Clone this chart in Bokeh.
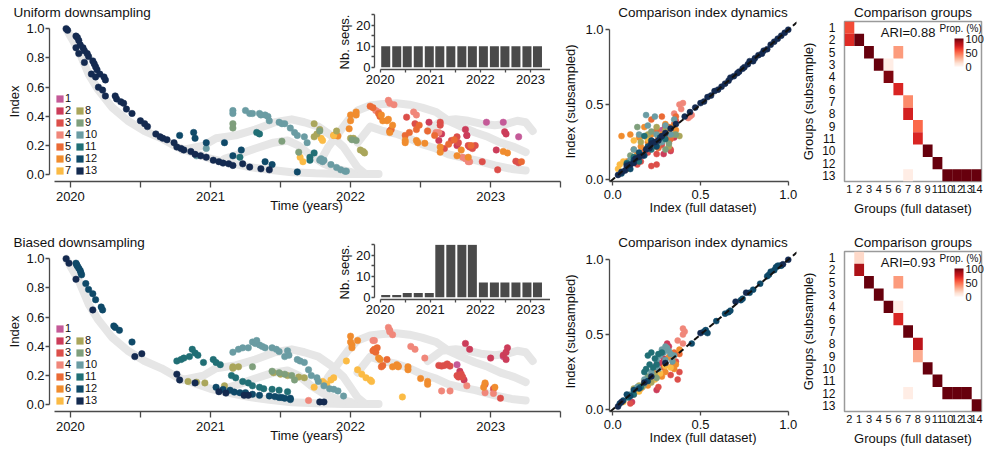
from bokeh.plotting import figure
from bokeh.models import (ColumnDataSource, Range1d, FactorRange, FixedTicker, Legend, LegendItem,
                          LinearColorMapper, ColorBar, Slope, GridBox, PrintfTickFormatter,
                          CustomJSTickFormatter, Label)
from bokeh.transform import transform
from bokeh.core.properties import value
from bokeh.embed import file_html
from bokeh.resources import INLINE
from bokeh.palettes import Reds256

FONT = "Liberation Sans"
NAN = float("nan")

# ---------------- categories / colours ----------------
GROUP_LABELS = ["1", "2", "3", "4", "5", "6", "7", "8", "9", "10", "11", "12", "13"]
GROUP_COLORS = ["#c45a98", "#cc3d5a", "#dc4f4a", "#f0877a", "#ea6a35", "#f08c2e", "#fbbb45",
                "#aaa65b", "#7f9f7c", "#6a9ca3", "#216f75", "#0f4968", "#142a50"]

# ---------------- full dataset index (grey bands) ----------------
BAND_DECAY_YEAR = [2019.97, 2020.06, 2020.13, 2020.20, 2020.30, 2020.41, 2020.53, 2020.65, 2020.76,
                   2020.88, 2021.00, 2021.14, 2021.28, 2021.42, 2021.58, 2021.75, 2021.95, 2022.20]
BAND_DECAY_INDEX = [1.0, 0.85, 0.69, 0.58, 0.46, 0.37, 0.30, 0.25, 0.19, 0.15, 0.11, 0.08, 0.053,
                    0.034, 0.018, 0.01, 0.005, 0.005]
BAND2_YEAR = [2020.80, 2020.95, 2021.04, 2021.18, 2021.32, 2021.46, 2021.58, 2021.67, 2021.77,
              2021.86, 2021.95, 2022.0, 2022.05, 2022.10]
BAND2_INDEX = [0.17, 0.20, 0.25, 0.27, 0.31, 0.36, 0.38, 0.36, 0.33, 0.27, 0.19, 0.12, 0.05, 0.01]
BAND3_YEAR = [2021.10, 2021.20, 2021.32, 2021.45, 2021.55, 2021.63, 2021.72, 2021.81, 2021.90, 2022.0]
BAND3_INDEX = [0.11, 0.14, 0.18, 0.22, 0.235, 0.20, 0.13, 0.075, 0.04, 0.02]
BAND4_YEAR = [2021.80, 2021.84, 2021.91, 2021.98, 2022.05, 2022.14, 2022.23, 2022.33, 2022.42,
              2022.51, 2022.61, 2022.70, 2022.79, 2022.89, 2022.98, 2023.07, 2023.17, 2023.25]
BAND4_INDEX = [0.12, 0.19, 0.28, 0.37, 0.44, 0.475, 0.485, 0.49, 0.48, 0.46, 0.43, 0.37, 0.33,
               0.29, 0.26, 0.22, 0.19, 0.155]
BAND5_YEAR = [2022.05, 2022.14, 2022.23, 2022.33, 2022.42, 2022.51, 2022.61, 2022.70, 2022.79,
              2022.89, 2023.03, 2023.15, 2023.25]
BAND5_INDEX = [0.22, 0.33, 0.30, 0.28, 0.25, 0.21, 0.18, 0.14, 0.12, 0.10, 0.064, 0.04, 0.03]
BAND6_YEAR = [2022.55, 2022.65, 2022.75, 2022.84, 2022.93, 2023.03, 2023.12, 2023.19, 2023.25, 2023.30]
BAND6_INDEX = [0.30, 0.37, 0.38, 0.37, 0.35, 0.34, 0.35, 0.37, 0.36, 0.30]

# ---------------- uniform downsampling: index through time (year, index) ----------------
UT1 = [(2022.97, 0.36), (2023.09, 0.36), (2022.83, 0.27), (2023.20, 0.26)]
UT2 = [(2022.65, 0.28), (2022.63, 0.235), (2022.82, 0.31), (2022.83, 0.27), (2023.10, 0.295),
       (2023.11, 0.28), (2022.76, 0.20), (2023.04, 0.17), (2022.56, 0.36)]
UT3 = [(2022.40, 0.395), (2022.46, 0.35), (2022.64, 0.36), (2022.64, 0.34), (2022.72, 0.235),
       (2022.76, 0.26), (2022.77, 0.22), (2022.84, 0.20), (2022.85, 0.19), (2022.87, 0.18),
       (2022.89, 0.20), (2022.94, 0.09), (2023.05, 0.034), (2023.18, 0.093), (2023.20, 0.082),
       (2022.67, 0.18)]
UT4 = [(2022.27, 0.51), (2022.28, 0.49), (2022.31, 0.48), (2022.45, 0.43), (2022.47, 0.41),
       (2022.61, 0.29), (2022.63, 0.29), (2022.80, 0.12), (2022.82, 0.11), (2022.84, 0.09),
       (2022.85, 0.09), (2022.18, 0.44), (2022.20, 0.43)]
UT5 = [(2022.14, 0.47), (2022.16, 0.46), (2022.20, 0.42), (2022.21, 0.40), (2022.28, 0.30),
       (2022.29, 0.31), (2022.39, 0.27), (2022.42, 0.29), (2022.47, 0.31), (2022.49, 0.34),
       (2022.55, 0.30), (2022.60, 0.27), (2022.70, 0.21), (2022.74, 0.24), (2022.86, 0.20),
       (2023.22, 0.09)]
UT6 = [(2021.88, 0.27), (2021.91, 0.265), (2022.00, 0.41), (2022.00, 0.37), (2022.04, 0.43),
       (2022.04, 0.41), (2021.99, 0.315), (2022.22, 0.41), (2022.23, 0.37), (2022.26, 0.37),
       (2022.27, 0.38), (2022.30, 0.34), (2022.28, 0.29), (2022.39, 0.235), (2022.39, 0.22),
       (2022.47, 0.235), (2022.48, 0.22), (2022.53, 0.216), (2022.64, 0.19), (2022.64, 0.155),
       (2022.76, 0.13), (2022.84, 0.12), (2022.79, 0.17), (2023.09, 0.16), (2023.12, 0.15)]
UT7 = [(2021.64, 0.12), (2021.66, 0.09), (2021.79, 0.25), (2021.80, 0.235), (2021.88, 0.27)]
UT8 = [(2021.74, 0.35), (2021.78, 0.31), (2021.76, 0.28), (2021.74, 0.26), (2021.90, 0.30),
       (2022.00, 0.25), (2022.02, 0.25), (2022.07, 0.17), (2022.09, 0.16), (2022.10, 0.15)]
UT9 = [(2021.16, 0.35), (2021.16, 0.32), (2021.51, 0.23), (2021.63, 0.155), (2021.78, 0.30),
       (2022.01, 0.24), (2022.04, 0.235)]
UT10 = [(2020.90, 0.13), (2020.97, 0.18), (2021.16, 0.44), (2021.16, 0.42), (2021.25, 0.44),
        (2021.28, 0.42), (2021.30, 0.42), (2021.35, 0.42), (2021.36, 0.41), (2021.39, 0.41),
        (2021.41, 0.40), (2021.42, 0.37), (2021.49, 0.36), (2021.51, 0.35), (2021.53, 0.35),
        (2021.57, 0.32), (2021.60, 0.29), (2021.62, 0.27), (2021.67, 0.26), (2021.69, 0.22),
        (2021.79, 0.11), (2021.80, 0.09), (2021.78, 0.10), (2021.81, 0.10), (2021.86, 0.07),
        (2021.90, 0.05), (2021.93, 0.034), (2021.96, 0.025), (2021.97, 0.025)]
UT11 = [(2021.33, 0.29), (2021.35, 0.28), (2021.21, 0.12), (2021.71, 0.12), (2021.71, 0.10),
        (2021.74, 0.15)]
UT12 = [(2020.78, 0.27), (2020.88, 0.29), (2020.89, 0.25), (2020.97, 0.22), (2021.10, 0.22),
        (2021.16, 0.13), (2021.22, 0.17), (2021.39, 0.09), (2021.44, 0.07), (2021.62, 0.02)]
UT13 = [(2019.97, 1.00), (2019.98, 0.99), (2020.04, 0.95), (2020.05, 0.94), (2020.06, 0.92),
        (2020.04, 0.87), (2020.07, 0.89), (2020.09, 0.87), (2020.06, 0.83), (2020.10, 0.85),
        (2020.10, 0.77), (2020.12, 0.83), (2020.13, 0.81), (2020.16, 0.78), (2020.17, 0.76),
        (2020.18, 0.74), (2020.19, 0.72), (2020.21, 0.69), (2020.24, 0.67), (2020.25, 0.65),
        (2020.15, 0.69), (2020.18, 0.67), (2020.20, 0.60), (2020.23, 0.58), (2020.25, 0.54),
        (2020.32, 0.54), (2020.33, 0.52), (2020.36, 0.50), (2020.38, 0.49), (2020.40, 0.45),
        (2020.44, 0.42), (2020.50, 0.37), (2020.53, 0.35), (2020.55, 0.33), (2020.61, 0.28),
        (2020.64, 0.26), (2020.66, 0.25), (2020.69, 0.24), (2020.74, 0.22), (2020.76, 0.19),
        (2020.79, 0.18), (2020.81, 0.17), (2020.86, 0.16), (2020.89, 0.14), (2020.93, 0.13),
        (2020.97, 0.12), (2021.02, 0.10), (2021.06, 0.09), (2021.09, 0.08), (2021.13, 0.075),
        (2021.16, 0.064), (2021.23, 0.075), (2021.28, 0.053), (2021.36, 0.041), (2021.42, 0.034)]

# ---------------- biased downsampling: index through time (year, index) ----------------
BT1 = [(2022.76, 0.275), (2023.09, 0.33)]
BT2 = [(2022.82, 0.42), (2022.85, 0.38), (2022.81, 0.17), (2023.00, 0.32), (2023.09, 0.34),
       (2023.11, 0.36), (2023.12, 0.39), (2023.11, 0.31), (2022.78, 0.23)]
BT3 = [(2022.63, 0.27), (2022.65, 0.265), (2022.67, 0.27), (2022.69, 0.28), (2022.71, 0.265),
       (2022.76, 0.20), (2022.79, 0.21), (2022.77, 0.19), (2022.80, 0.19), (2022.96, 0.14),
       (2023.02, 0.11), (2023.07, 0.045)]
BT4 = [(2022.27, 0.53), (2022.28, 0.51), (2022.28, 0.50), (2022.30, 0.48), (2022.16, 0.44),
       (2022.17, 0.44), (2022.43, 0.40), (2022.46, 0.38), (2022.53, 0.32), (2021.70, 0.03),
       (2022.65, 0.095), (2022.71, 0.095), (2022.83, 0.13), (2022.96, 0.083), (2023.02, 0.078)]
BT5 = [(2022.16, 0.37), (2022.18, 0.36), (2022.17, 0.38), (2022.19, 0.39), (2022.23, 0.27),
       (2022.22, 0.26), (2022.34, 0.265), (2022.26, 0.31)]
BT6 = [(2022.00, 0.47), (2022.00, 0.43), (2022.01, 0.41), (2022.01, 0.39), (2022.05, 0.44),
       (2022.20, 0.32), (2022.21, 0.31), (2022.30, 0.26), (2022.33, 0.275), (2022.34, 0.26),
       (2022.41, 0.26), (2022.41, 0.24), (2022.50, 0.18), (2022.55, 0.16), (2022.55, 0.14),
       (2022.96, 0.15), (2023.03, 0.12), (2022.95, 0.12)]
BT7 = [(2021.74, 0.12), (2021.80, 0.16), (2021.81, 0.15), (2021.86, 0.17), (2021.88, 0.185),
       (2021.97, 0.30), (2022.05, 0.24), (2022.08, 0.21), (2022.11, 0.185), (2022.14, 0.17),
       (2022.15, 0.16), (2022.37, 0.054), (2021.83, 0.14)]
BT8 = [(2020.84, 0.16), (2020.90, 0.155), (2020.96, 0.15), (2021.10, 0.13), (2021.16, 0.26),
       (2021.16, 0.25), (2021.20, 0.26), (2021.45, 0.22), (2021.50, 0.21), (2021.55, 0.20),
       (2021.63, 0.19), (2021.67, 0.185)]
BT9 = [(2021.30, 0.26), (2021.44, 0.23), (2021.49, 0.22), (2021.53, 0.21), (2021.58, 0.20),
       (2021.60, 0.17)]
BT10 = [(2021.16, 0.36), (2021.20, 0.38), (2021.23, 0.39), (2021.27, 0.39), (2021.30, 0.43),
        (2021.32, 0.42), (2021.35, 0.41), (2021.37, 0.40), (2021.39, 0.39), (2021.44, 0.39),
        (2021.47, 0.38), (2021.49, 0.365), (2021.53, 0.33), (2021.56, 0.34), (2021.62, 0.31),
        (2021.64, 0.30), (2021.67, 0.29), (2021.70, 0.24), (2021.72, 0.20), (2021.76, 0.185),
        (2021.77, 0.16), (2021.81, 0.13), (2021.85, 0.11), (2021.88, 0.106), (2021.91, 0.095),
        (2021.95, 0.06), (2021.33, 0.44), (2021.55, 0.37)]
BT11 = [(2020.76, 0.30), (2020.79, 0.31), (2020.81, 0.32), (2020.85, 0.33), (2020.87, 0.38),
        (2020.89, 0.355), (2020.91, 0.34), (2020.95, 0.29), (2021.02, 0.31), (2021.04, 0.29),
        (2021.07, 0.275), (2021.15, 0.20), (2021.18, 0.185), (2021.23, 0.16), (2021.27, 0.15),
        (2021.30, 0.13), (2021.35, 0.12), (2021.38, 0.11), (2021.44, 0.106), (2021.49, 0.10),
        (2021.55, 0.09)]
BT12 = [(2020.04, 0.97), (2020.045, 0.96), (2020.05, 0.95), (2020.06, 0.935), (2020.07, 0.92),
        (2020.075, 0.905), (2020.08, 0.89), (2020.11, 0.83), (2020.13, 0.79), (2020.16, 0.76),
        (2020.18, 0.72), (2020.22, 0.67), (2020.23, 0.65), (2020.31, 0.54), (2020.32, 0.53),
        (2020.35, 0.51), (2020.44, 0.43), (2021.04, 0.12), (2021.09, 0.105), (2021.14, 0.10),
        (2021.17, 0.087), (2021.21, 0.083), (2021.25, 0.083), (2021.30, 0.072), (2021.35, 0.065),
        (2021.42, 0.061), (2021.46, 0.056), (2021.51, 0.05), (2021.57, 0.045), (2021.49, 0.05),
        (2021.53, 0.045), (2021.57, 0.036)]
BT13 = [(2019.97, 1.00), (2019.99, 0.97), (2020.04, 0.86), (2020.16, 0.65), (2020.46, 0.33),
        (2020.51, 0.35), (2020.76, 0.21), (2020.78, 0.17), (2020.89, 0.15), (2021.06, 0.09),
        (2021.11, 0.08), (2021.24, 0.065), (2021.27, 0.065), (2021.78, 0.02), (2021.81, 0.02)]

# ---------------- comparison of index values (full, subsampled) ----------------
UC1 = [(0.30, 0.36), (0.28, 0.33), (0.32, 0.26), (0.22, 0.26)]
UC2 = [(0.31, 0.31), (0.26, 0.28), (0.24, 0.23), (0.35, 0.28), (0.33, 0.19), (0.29, 0.17)]
UC3 = [(0.36, 0.39), (0.30, 0.35), (0.33, 0.20), (0.25, 0.17), (0.28, 0.23), (0.32, 0.25),
       (0.20, 0.18), (0.16, 0.12), (0.25, 0.10), (0.14, 0.10), (0.22, 0.09)]
UC4 = [(0.38, 0.50), (0.40, 0.51), (0.39, 0.47), (0.44, 0.42), (0.43, 0.41), (0.45, 0.43),
       (0.35, 0.44), (0.30, 0.28), (0.12, 0.12), (0.10, 0.10)]
UC5 = [(0.22, 0.40), (0.28, 0.42), (0.25, 0.33), (0.30, 0.29), (0.35, 0.37), (0.33, 0.27),
       (0.18, 0.20), (0.26, 0.21), (0.32, 0.35), (0.36, 0.42)]
UC6 = [(0.10, 0.30), (0.15, 0.28), (0.18, 0.35), (0.22, 0.30), (0.12, 0.20), (0.25, 0.22),
       (0.28, 0.30), (0.30, 0.37), (0.34, 0.35), (0.20, 0.25), (0.08, 0.12), (0.16, 0.22),
       (0.26, 0.27), (0.32, 0.32), (0.36, 0.33), (0.14, 0.17), (0.05, 0.29)]
UC7 = [(0.06, 0.12), (0.04, 0.10), (0.08, 0.07), (0.12, 0.26), (0.20, 0.27), (0.03, 0.07)]
UC8 = [(0.28, 0.26), (0.35, 0.30), (0.20, 0.30), (0.32, 0.22), (0.25, 0.35), (0.38, 0.29),
       (0.16, 0.25), (0.30, 0.33)]
UC9 = [(0.14, 0.35), (0.22, 0.32), (0.26, 0.24), (0.32, 0.24), (0.10, 0.16), (0.30, 0.20),
       (0.36, 0.30)]
UC10 = [(0.19, 0.43), (0.24, 0.42), (0.20, 0.36), (0.15, 0.30), (0.30, 0.36), (0.25, 0.30),
        (0.35, 0.40), (0.10, 0.13), (0.05, 0.05), (0.28, 0.25), (0.33, 0.30), (0.12, 0.20)]
UC11 = [(0.12, 0.15), (0.15, 0.12), (0.18, 0.29), (0.22, 0.20), (0.30, 0.27), (0.08, 0.11)]
UC12 = [(0.08, 0.10), (0.12, 0.13), (0.15, 0.18), (0.18, 0.16), (0.20, 0.22), (0.22, 0.26),
        (0.25, 0.22), (0.27, 0.28), (0.10, 0.07), (0.05, 0.04)]
UC13 = [(0.03, 0.03), (0.05, 0.05), (0.07, 0.06), (0.08, 0.09), (0.10, 0.10), (0.12, 0.11),
        (0.13, 0.14), (0.15, 0.15), (0.17, 0.16), (0.19, 0.20), (0.21, 0.21), (0.22, 0.24),
        (0.24, 0.25), (0.26, 0.26), (0.28, 0.29), (0.30, 0.31), (0.33, 0.34), (0.36, 0.37),
        (0.41, 0.42), (0.44, 0.45), (0.47, 0.48), (0.50, 0.51), (0.52, 0.52), (0.54, 0.55),
        (0.56, 0.56), (0.58, 0.59), (0.60, 0.60), (0.62, 0.62), (0.64, 0.64), (0.66, 0.66),
        (0.67, 0.68), (0.69, 0.69), (0.71, 0.71), (0.72, 0.72), (0.74, 0.74), (0.75, 0.75),
        (0.77, 0.77), (0.78, 0.79), (0.80, 0.79), (0.81, 0.81), (0.83, 0.83), (0.85, 0.84),
        (0.86, 0.86), (0.88, 0.87), (0.90, 0.90), (0.92, 0.92), (0.94, 0.94), (0.96, 0.96),
        (0.98, 0.98), (1.00, 1.00)]

BC1 = [(0.25, 0.30), (0.27, 0.31)]
BC2 = [(0.29, 0.34), (0.32, 0.42), (0.31, 0.44), (0.28, 0.31), (0.25, 0.13), (0.11, 0.05)]
BC3 = [(0.30, 0.30), (0.34, 0.29), (0.36, 0.32), (0.38, 0.25), (0.33, 0.23), (0.37, 0.20),
       (0.10, 0.04), (0.18, 0.17), (0.26, 0.15)]
BC4 = [(0.40, 0.54), (0.41, 0.52), (0.40, 0.50), (0.37, 0.46), (0.40, 0.44), (0.12, 0.10), (0.15, 0.13)]
BC5 = [(0.35, 0.38), (0.33, 0.36), (0.38, 0.37), (0.29, 0.28), (0.22, 0.20)]
BC6 = [(0.32, 0.35), (0.34, 0.33), (0.36, 0.30), (0.38, 0.40), (0.30, 0.25), (0.25, 0.26),
       (0.20, 0.16), (0.28, 0.22), (0.35, 0.27), (0.16, 0.14)]
BC7 = [(0.15, 0.12), (0.18, 0.19), (0.30, 0.29), (0.24, 0.20), (0.27, 0.24), (0.06, 0.05), (0.33, 0.28)]
BC8 = [(0.15, 0.16), (0.17, 0.15), (0.12, 0.14), (0.24, 0.23), (0.20, 0.21), (0.22, 0.18)]
BC9 = [(0.20, 0.22), (0.22, 0.23), (0.25, 0.21), (0.18, 0.17)]
BC10 = [(0.28, 0.40), (0.30, 0.42), (0.32, 0.39), (0.27, 0.36), (0.30, 0.33), (0.33, 0.37),
        (0.35, 0.36), (0.25, 0.33), (0.29, 0.38), (0.31, 0.41), (0.22, 0.25), (0.26, 0.27),
        (0.34, 0.32), (0.18, 0.20), (0.14, 0.15), (0.10, 0.10)]
BC11 = [(0.20, 0.36), (0.22, 0.38), (0.24, 0.34), (0.25, 0.30), (0.21, 0.30), (0.18, 0.25),
        (0.26, 0.37), (0.28, 0.38), (0.23, 0.28), (0.19, 0.27), (0.16, 0.15), (0.12, 0.10), (0.09, 0.08)]
BC12 = [(0.45, 0.44), (0.52, 0.52), (0.53, 0.53), (0.54, 0.51), (0.64, 0.64), (0.66, 0.65),
        (0.67, 0.66), (0.73, 0.73), (0.74, 0.74), (0.78, 0.78), (0.80, 0.80), (0.88, 0.89),
        (0.89, 0.90), (0.90, 0.92), (0.92, 0.93), (0.93, 0.95), (0.94, 0.96), (0.95, 0.96),
        (0.96, 0.96), (0.59, 0.59), (0.84, 0.84), (0.10, 0.09), (0.12, 0.13), (0.06, 0.06),
        (0.15, 0.14), (0.20, 0.19), (0.08, 0.10), (0.04, 0.04)]
BC13 = [(1.0, 1.0), (0.97, 0.97), (0.76, 0.78), (0.70, 0.72), (0.50, 0.51), (0.22, 0.22),
        (0.18, 0.18), (0.05, 0.05), (0.03, 0.02), (0.30, 0.31)]

# ---------------- number of sequences per time bin (inset) ----------------
BIN_CENTERS = [2020.11, 2020.33, 2020.54, 2020.76, 2020.98, 2021.19, 2021.41, 2021.63, 2021.84,
               2022.06, 2022.28, 2022.49, 2022.71, 2022.93, 2023.14]
UNIFORM_COUNTS = [10, 10, 10, 10, 10, 10, 10, 10, 10, 10, 10, 10, 10, 10, 10]
BIASED_COUNTS = [1, 1, 2, 2, 2, 25, 25, 25, 25, 7, 7, 7, 7, 7, 7]

# ---------------- group comparison heatmaps ----------------
UNI_FULL_FACTORS = ["1", "2", "3", "4", "5", "6", "7", "8", "9", "11", "10", "12", "13", "14"]
UNI_SUB_FACTORS = ["1", "2", "5", "3", "4", "6", "7", "8", "9", "11", "10", "12", "13"]
UNI_CELL_SUB = ["1", "2", "2", "5", "5", "3", "3", "4", "6", "7", "8", "9", "11", "10", "12",
                "13", "13", "13", "13", "13"]
UNI_CELL_FULL = ["1", "1", "2", "3", "6", "4", "5", "5", "6", "7", "7", "8", "8", "9", "11",
                 "10", "12", "13", "14", "7"]
UNI_CELL_PROP = [58, 68, 100, 100, 35, 100, 5, 95, 70, 40, 72, 50, 70, 100, 100, 100, 100, 100, 100, 5]
UNI_ARI = "ARI=0.88"

BIA_FULL_FACTORS = ["2", "1", "3", "4", "5", "6", "7", "8", "9", "11", "10", "12", "13", "14"]
BIA_SUB_FACTORS = ["1", "2", "5", "3", "4", "6", "7", "8", "9", "10", "11", "12", "13"]
BIA_CELL_SUB = ["1", "2", "5", "5", "3", "4", "4", "6", "7", "8", "9", "10", "11", "12", "12",
                "12", "12", "13"]
BIA_CELL_FULL = ["1", "1", "3", "6", "4", "5", "6", "6", "7", "8", "8", "9", "11", "10", "12",
                 "13", "7", "14"]
BIA_CELL_PROP = [15, 85, 100, 35, 100, 100, 5, 70, 100, 80, 30, 100, 100, 100, 100, 100, 5, 100]
BIA_ARI = "ARI=0.93"

MAIN_X_TICKS = [2020, 2020.5, 2021, 2021.5, 2022, 2022.5, 2023, 2023.5]
MAIN_Y_TICKS = [0.0, 0.2, 0.4, 0.6, 0.8, 1.0]
INSET_Y_TICKS = [0, 5, 10, 15, 20, 25]
CMP_TICKS = [0.0, 0.5, 1.0]
HEAT_TICKS = [0, 50, 100]

AXIS_COL = "#4a4a4a"
TXT_COL = "#111111"
GRAY = "#e6e6e6"

YEAR_FMT = CustomJSTickFormatter(code="return Number.isInteger(tick) ? tick.toFixed(0) : '';")


def base_fig(x_range, y_range, left, right, top, bottom, **size):
    p = figure(x_range=x_range, y_range=y_range,
               output_backend="svg", toolbar_location=None,
               min_border_left=left, min_border_right=right,
               min_border_top=top, min_border_bottom=bottom, **size)
    p.xgrid.visible = False
    p.ygrid.visible = False
    p.outline_line_color = None
    p.background_fill_alpha = 0
    p.border_fill_alpha = 0
    p.title.text_font = FONT
    p.title.text_font_style = "normal"
    p.title.text_font_size = "13.5px"
    p.title.text_color = TXT_COL
    p.title.standoff = 4
    for ax in list(p.xaxis) + list(p.yaxis):
        ax.axis_line_color = AXIS_COL
        ax.axis_line_width = 1.3
        ax.major_tick_line_color = AXIS_COL
        ax.major_tick_line_width = 1.3
        ax.major_tick_out = 4
        ax.major_tick_in = 0
        ax.minor_tick_line_color = None
        ax.major_label_text_font = FONT
        ax.major_label_text_font_size = "13px"
        ax.major_label_text_color = TXT_COL
        ax.major_label_standoff = 1
        ax.axis_label_text_font = FONT
        ax.axis_label_text_font_size = "13px"
        ax.axis_label_text_font_style = "normal"
        ax.axis_label_text_color = TXT_COL
        ax.axis_label_standoff = 1
    return p


def time_panel(title, groups):
    p = base_fig(Range1d(2019.851, 2023.52), Range1d(-0.0459, 1.05), 40, 2, 21, 39,
                 width=566, height=220)
    p.title.text = title
    p.title.align = "left"
    p.title.offset = -36
    for bx, by in [(BAND_DECAY_YEAR, BAND_DECAY_INDEX), (BAND2_YEAR, BAND2_INDEX),
                   (BAND3_YEAR, BAND3_INDEX), (BAND4_YEAR, BAND4_INDEX),
                   (BAND5_YEAR, BAND5_INDEX), (BAND6_YEAR, BAND6_INDEX)]:
        p.line(bx, by, line_color=GRAY, line_width=8, line_cap="round", line_join="round")
    items = []
    for lab, col, pts in zip(GROUP_LABELS, GROUP_COLORS, groups):
        p.scatter([a for a, b in pts], [b for a, b in pts], size=6.5,
                  fill_color=col, line_color=col, line_width=0.5)
        r = p.quad(left=[NAN], right=[NAN], top=[NAN], bottom=[NAN], fill_color=col, line_color=None)
        items.append(LegendItem(label=lab, renderers=[r]))
    for its, loc in [(items[:7], (6, 5)), (items[7:], (26, 5))]:
        leg = Legend(items=its, location=loc, border_line_color=None, background_fill_alpha=0,
                     padding=0, margin=0, spacing=0, glyph_width=9, glyph_height=9,
                     label_standoff=1, label_height=12, label_text_font=FONT,
                     label_text_font_size="11px", label_text_color=TXT_COL,
                     label_text_line_height=1.0)
        p.add_layout(leg)
    p.xaxis.ticker = FixedTicker(ticks=MAIN_X_TICKS)
    p.xaxis.formatter = YEAR_FMT
    p.xaxis.bounds = (2019.89, 2023.5)
    p.xaxis.major_tick_out = 6
    p.xaxis.major_label_standoff = 4
    p.xaxis.axis_label_standoff = -6
    p.yaxis.ticker = FixedTicker(ticks=MAIN_Y_TICKS)
    p.yaxis.formatter = PrintfTickFormatter(format="%.1f")
    p.yaxis.bounds = (0, 1)
    p.xaxis.axis_label = "Time (years)"
    p.yaxis.axis_label = "Index"
    return p


def inset_panel(counts):
    q = base_fig(Range1d(2019.886, 2023.52), Range1d(-1.09, 25.1), 40, 3, 13, 36,
                 frame_width=182, frame_height=55)
    q.title = None
    q.vbar(x=BIN_CENTERS, top=counts, width=0.18, bottom=0, fill_color="#4a4a4a", line_color=None)
    q.xaxis.ticker = FixedTicker(ticks=MAIN_X_TICKS)
    q.xaxis.formatter = YEAR_FMT
    q.xaxis.bounds = (2020, 2023.5)
    q.xaxis.axis_label = None
    q.yaxis.ticker = FixedTicker(ticks=INSET_Y_TICKS)
    q.yaxis.formatter = CustomJSTickFormatter(code="return (tick % 10 === 0) ? tick.toFixed(0) : '';")
    q.yaxis.bounds = (0, 25)
    q.yaxis.axis_label = "Nb. seqs."
    for ax in list(q.xaxis) + list(q.yaxis):
        ax.major_tick_out = 3
    q.xaxis.major_label_standoff = 2
    return q


def cmp_panel(groups):
    p = base_fig(Range1d(-0.0185, 1.047), Range1d(-0.0132, 1.0547), 47, 2, 20, 38,
                 width=239, height=220)
    p.title.text = "Comparison index dynamics"
    p.title.align = "center"
    p.title.offset = -4
    for col, pts in zip(GROUP_COLORS, groups):
        p.scatter([a for a, b in pts], [b for a, b in pts], size=6,
                  fill_color=col, line_color=col, line_width=0.5)
    p.add_layout(Slope(gradient=1, y_intercept=0, line_color="#111111", line_width=2,
                       line_dash="6 4"))
    for ax in list(p.xaxis) + list(p.yaxis):
        ax.ticker = FixedTicker(ticks=CMP_TICKS)
        ax.formatter = PrintfTickFormatter(format="%.1f")
        ax.major_label_standoff = 2
        ax.axis_label_standoff = 4
    p.xaxis.major_label_standoff = 4
    p.xaxis.axis_label_standoff = -2
    p.xaxis.bounds = (-0.0185, 1.0)
    p.yaxis.bounds = (-0.0132, 1.0)
    p.xaxis.axis_label = "Index (full dataset)"
    p.yaxis.axis_label = "Index (subsampled)"
    return p


def heat_panel(xf, yf, sub, full, prop, ari):
    p = base_fig(FactorRange(factors=xf), FactorRange(factors=list(reversed(yf))),
                 43, 1, 21, 37, width=189, height=220)
    p.title.text = "Comparison groups"
    p.title.align = "center"
    p.title.offset = -4
    mapper = LinearColorMapper(palette=list(reversed(Reds256)), low=0, high=100)
    src = ColumnDataSource(dict(x=full, y=sub, v=prop))
    p.rect(x="x", y="y", width=1, height=1, source=src,
           fill_color=transform("v", mapper), line_color=None)
    p.outline_line_color = "#9a9a9a"
    p.outline_line_width = 1.5
    p.text(x=["7"], y=["1"], text=[ari], y_offset=5, text_align="center", text_baseline="middle",
           text_font=value(FONT), text_font_size="13px", text_color=TXT_COL)
    cb = ColorBar(color_mapper=mapper, location=(110, 115), width=9, height=28,
                  margin=0, padding=0, ticker=FixedTicker(ticks=HEAT_TICKS),
                  major_label_text_font=FONT, major_label_text_font_size="11px",
                  major_label_text_color=TXT_COL, label_standoff=2,
                  major_tick_line_color=None, bar_line_color=None,
                  background_fill_alpha=0, border_line_color=None)
    p.add_layout(cb)
    p.add_layout(Label(x=95, y=153, x_units="screen", y_units="screen", text="Prop. (%)",
                       text_font=FONT, text_font_size="10px", text_color=TXT_COL,
                       text_baseline="middle"))
    for ax in list(p.xaxis) + list(p.yaxis):
        ax.axis_line_color = None
        ax.major_tick_line_color = None
        ax.major_tick_out = 0
    p.xaxis.major_label_text_font_size = "11px"
    p.xaxis.major_label_standoff = 3
    p.xaxis.axis_label_standoff = 5
    p.yaxis.major_label_text_font_size = "12px"
    p.yaxis.major_label_standoff = 9
    p.yaxis.axis_label_standoff = 3
    p.xaxis.axis_label = "Groups (full dataset)"
    p.yaxis.axis_label = "Groups (subsample)"
    return p


uni_time = [UT1, UT2, UT3, UT4, UT5, UT6, UT7, UT8, UT9, UT10, UT11, UT12, UT13]
bia_time = [BT1, BT2, BT3, BT4, BT5, BT6, BT7, BT8, BT9, BT10, BT11, BT12, BT13]
uni_cmp = [UC1, UC2, UC3, UC4, UC5, UC6, UC7, UC8, UC9, UC10, UC11, UC12, UC13]
bia_cmp = [BC1, BC2, BC3, BC4, BC5, BC6, BC7, BC8, BC9, BC10, BC11, BC12, BC13]

panels = [
    (0, "Uniform downsampling", uni_time, UNIFORM_COUNTS, uni_cmp,
     (UNI_FULL_FACTORS, UNI_SUB_FACTORS, UNI_CELL_SUB, UNI_CELL_FULL, UNI_CELL_PROP, UNI_ARI)),
    (230, "Biased downsampling", bia_time, BIASED_COUNTS, bia_cmp,
     (BIA_FULL_FACTORS, BIA_SUB_FACTORS, BIA_CELL_SUB, BIA_CELL_FULL, BIA_CELL_PROP, BIA_ARI)),
]

children = []
for dy, title, tgroups, counts, cgroups, heat in panels:
    figs = [(time_panel(title, tgroups), 0, 0), (inset_panel(counts), 325, -7),
            (cmp_panel(cgroups), 560, 0), (heat_panel(*heat), 795, 0)]
    for f, dx, ddy in figs:
        f.margin = (dy + ddy, 0, 0, dx)
        children.append((f, 0, 0))

grid = GridBox(children=children, spacing=0)
open("out.html", "w").write(file_html(grid, INLINE))
